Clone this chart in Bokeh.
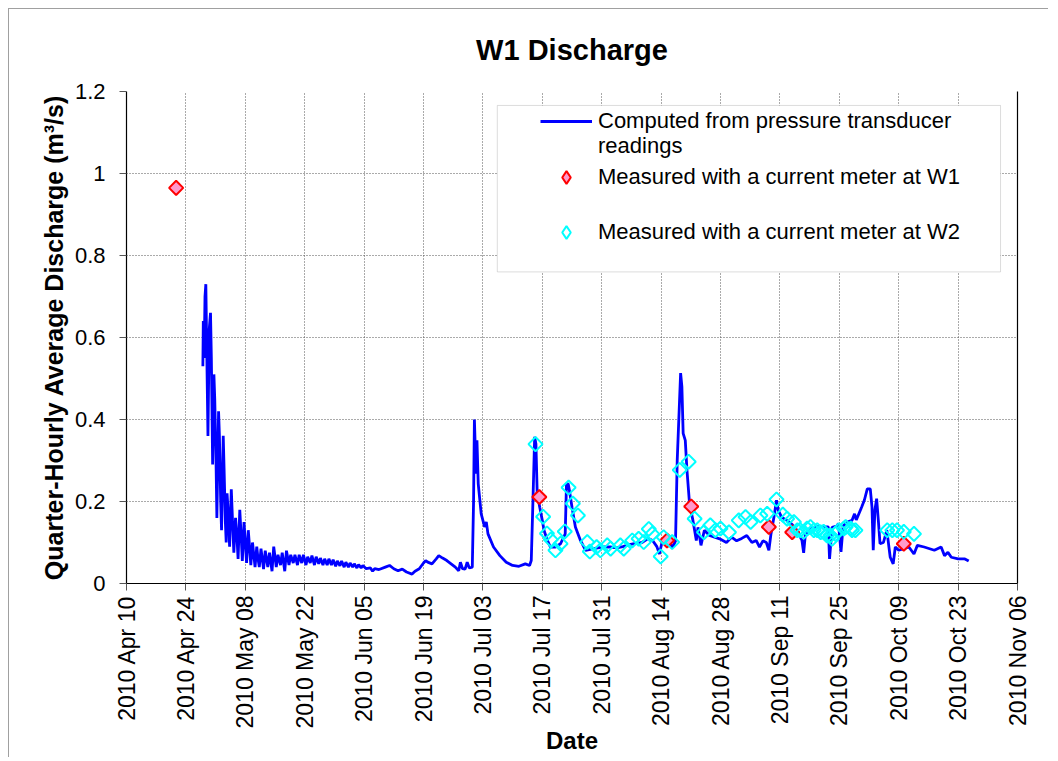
import numpy as np
import pandas as pd
from datetime import datetime, timedelta
from bokeh.plotting import figure
from bokeh.models import (FixedTicker, DatetimeTickFormatter, CustomJSTickFormatter,
                          Legend, LegendItem, BoxAnnotation, Range1d, LinearAxis,
                          ColumnDataSource)
from bokeh.embed import file_html
from bokeh.resources import INLINE

START = datetime(2010, 4, 10)
END = datetime(2010, 11, 6)

# ---- data: days after 2010 Apr 10, discharge (m3/s) ----
flow_day = [
    18.0, 18.1, 18.3, 18.5, 18.7, 18.9, 19.2, 19.5, 19.8, 20.0,
    20.3, 20.6, 20.8, 21.1, 21.3, 21.7, 21.9, 22.2, 22.4, 22.8,
    23.0, 23.3, 23.5, 23.7, 24.0, 24.3, 24.7, 25.0, 25.3, 25.7,
    26.0, 26.3, 26.7, 27.0, 27.3, 27.7, 28.0, 28.3, 28.7, 29.0,
    29.3, 29.7, 30.0, 30.3, 30.7, 31.0, 31.3, 31.7, 32.3, 32.7,
    33.3, 33.7, 34.3, 34.7, 35.3, 35.7, 36.3, 36.7, 37.3, 37.7,
    38.3, 38.7, 39.3, 39.7, 40.3, 40.7, 41.3, 41.7, 42.3, 42.7,
    43.3, 43.7, 44.3, 44.7, 45.3, 45.7, 46.3, 46.7, 47.3, 47.7,
    48.3, 48.7, 49.3, 49.7, 50.3, 50.7, 51.3, 51.7, 52.3, 52.7,
    53.3, 53.7, 54.3, 54.7, 55.3, 55.7, 56.5, 57.5, 58.0, 58.5,
    59.5, 60.0, 61.0, 62.0, 63.0, 64.0, 65.0, 66.0, 67.3, 68.0,
    69.0, 70.0, 70.5, 71.0, 72.0, 73.0, 73.6, 74.5, 75.5, 76.5,
    77.5, 78.3, 78.7, 79.2, 79.8, 80.3, 80.8, 81.5, 81.8, 82.0,
    82.2, 82.4, 82.6, 82.9, 83.6, 84.4, 84.8, 85.2, 86.5, 88.0,
    89.5, 91.0, 92.5, 94.0, 95.0, 95.4, 95.8, 96.2, 96.5, 96.8,
    97.4, 98.0, 98.4, 99.2, 99.9, 101.1, 102.3, 103.4, 103.7, 104.1,
    104.4, 105.0, 105.8, 107.0, 108.2, 110.1, 112.1, 114.0, 115.5, 117.0,
    118.5, 120.0, 121.5, 123.0, 124.0, 125.0, 125.6, 126.2, 127.0, 128.0,
    128.7, 129.4, 129.8, 130.6, 130.9, 131.2, 131.7, 132.1, 132.7, 133.5,
    134.3, 134.7, 135.4, 136.2, 137.4, 139.8, 141.4, 142.6, 143.8, 145.0,
    146.2, 147.4, 148.4, 149.2, 150.0, 150.8, 151.4, 151.9, 152.6, 153.2,
    153.6, 154.4, 155.6, 156.8, 158.0, 159.2, 159.6, 160.0, 161.5, 163.2,
    164.7, 165.4, 165.7, 166.3, 167.4, 167.8, 168.4, 168.9, 169.9, 171.0,
    171.6, 172.0, 173.3, 173.9, 174.6, 175.3, 175.7, 176.0, 176.4, 176.8,
    177.2, 177.6, 178.4, 179.2, 180.0, 180.7, 181.2, 182.0, 183.2, 184.4,
    185.6, 186.4, 188.0, 190.4, 192.0, 192.8, 193.6, 194.4, 196.0, 197.6,
    198.5,
]
flow_q = [
    0.53, 0.64, 0.55, 0.70, 0.73, 0.58, 0.36, 0.62, 0.66, 0.55,
    0.29, 0.51, 0.45, 0.30, 0.16, 0.42, 0.36, 0.20, 0.13, 0.36,
    0.28, 0.15, 0.10, 0.22, 0.17, 0.09, 0.23, 0.15, 0.075, 0.16,
    0.12, 0.06, 0.18, 0.12, 0.055, 0.15, 0.10, 0.05, 0.13, 0.09,
    0.045, 0.10, 0.07, 0.04, 0.09, 0.06, 0.04, 0.085, 0.035, 0.08,
    0.04, 0.075, 0.03, 0.09, 0.04, 0.07, 0.045, 0.075, 0.03, 0.08,
    0.045, 0.07, 0.05, 0.07, 0.045, 0.07, 0.05, 0.07, 0.045, 0.065,
    0.05, 0.068, 0.045, 0.065, 0.048, 0.062, 0.045, 0.06, 0.045, 0.06,
    0.045, 0.058, 0.042, 0.055, 0.043, 0.055, 0.04, 0.052, 0.04, 0.05,
    0.04, 0.048, 0.038, 0.046, 0.038, 0.044, 0.036, 0.038, 0.03, 0.036,
    0.034, 0.036, 0.040, 0.044, 0.036, 0.031, 0.035, 0.028, 0.023, 0.030,
    0.036, 0.050, 0.056, 0.052, 0.048, 0.060, 0.068, 0.062, 0.056, 0.048,
    0.040, 0.031, 0.052, 0.036, 0.035, 0.052, 0.038, 0.040, 0.20, 0.40,
    0.33, 0.268, 0.349, 0.243, 0.17, 0.138, 0.15, 0.121, 0.089, 0.068,
    0.052, 0.044, 0.042, 0.048, 0.044, 0.056, 0.203, 0.358, 0.34, 0.219,
    0.186, 0.154, 0.130, 0.105, 0.089, 0.089, 0.097, 0.121, 0.243, 0.243,
    0.227, 0.186, 0.138, 0.105, 0.081, 0.085, 0.089, 0.089, 0.087, 0.090,
    0.095, 0.098, 0.100, 0.110, 0.105, 0.090, 0.072, 0.100, 0.105, 0.100,
    0.088, 0.104, 0.30, 0.513, 0.48, 0.366, 0.349, 0.276, 0.195, 0.154,
    0.105, 0.137, 0.093, 0.130, 0.117, 0.109, 0.100, 0.113, 0.104, 0.110,
    0.117, 0.100, 0.105, 0.089, 0.104, 0.100, 0.081, 0.121, 0.162, 0.203,
    0.179, 0.162, 0.154, 0.145, 0.130, 0.105, 0.075, 0.120, 0.135, 0.140,
    0.138, 0.138, 0.060, 0.137, 0.140, 0.146, 0.077, 0.140, 0.150, 0.154,
    0.170, 0.155, 0.187, 0.203, 0.231, 0.231, 0.187, 0.081, 0.180, 0.207,
    0.154, 0.097, 0.100, 0.130, 0.064, 0.048, 0.089, 0.081, 0.085, 0.089,
    0.072, 0.093, 0.089, 0.081, 0.089, 0.068, 0.076, 0.064, 0.060, 0.060,
    0.055,
]

w1_day = [11.7, 97.3, 127.4, 133.1, 151.4, 156.9, 183.2]
w1_q = [0.965, 0.211, 0.105, 0.188, 0.138, 0.125, 0.097]

w2_day = [
    96.4, 98.2, 99.1, 100.0, 101.1, 102.3, 103.3, 104.2, 105.2, 106.4,
    108.6, 109.2, 110.8, 111.7, 113.3, 114.1, 116.4, 117.2, 119.2, 120.7,
    121.9, 123.1, 123.9, 125.9, 126.6, 128.6, 130.4, 132.5, 133.9, 136.1,
    137.6, 138.8, 140.0, 142.0, 144.3, 145.9, 147.1, 149.4, 151.0, 153.2,
    154.7, 155.7, 157.3, 158.1, 158.8, 159.6, 160.4, 161.2, 162.0, 162.8,
    163.6, 164.3, 165.1, 165.9, 166.3, 167.1, 167.9, 169.1, 169.5, 170.7,
    171.0, 171.8, 179.3, 180.5, 181.6, 183.2, 185.6,
]
w2_q = [
    0.340, 0.163, 0.122, 0.107, 0.081, 0.097, 0.127, 0.234, 0.195, 0.166,
    0.101, 0.078, 0.089, 0.081, 0.093, 0.085, 0.093, 0.085, 0.105, 0.109,
    0.101, 0.133, 0.121, 0.066, 0.113, 0.101, 0.277, 0.297, 0.158, 0.125,
    0.142, 0.130, 0.134, 0.125, 0.154, 0.162, 0.150, 0.166, 0.170, 0.205,
    0.168, 0.158, 0.150, 0.130, 0.130, 0.126, 0.134, 0.138, 0.130, 0.130,
    0.125, 0.126, 0.117, 0.117, 0.109, 0.121, 0.130, 0.134, 0.138, 0.134,
    0.130, 0.130, 0.130, 0.130, 0.130, 0.126, 0.121,
]

x_tick_dates = ["2010-04-10", "2010-04-24", "2010-05-08", "2010-05-22",
                "2010-06-05", "2010-06-19", "2010-07-03", "2010-07-17",
                "2010-07-31", "2010-08-14", "2010-08-28", "2010-09-11",
                "2010-09-25", "2010-10-09", "2010-10-23", "2010-11-06"]
y_ticks = [0, 0.2, 0.4, 0.6, 0.8, 1.0, 1.2]

FONT = "Liberation Sans"


def to_dt(days):
    return [START + timedelta(days=d) for d in days]


def ms(d):
    return pd.Timestamp(d).value / 1e6


flow_src = ColumnDataSource(dict(x=to_dt(flow_day), y=flow_q))
w1_src = ColumnDataSource(dict(x=to_dt(w1_day), y=w1_q))
w2_src = ColumnDataSource(dict(x=to_dt(w2_day), y=w2_q))

p = figure(frame_width=891, frame_height=492, x_axis_type="datetime",
           x_range=Range1d(START, END), y_range=Range1d(0, 1.2),
           output_backend="svg", toolbar_location=None,
           min_border_left=117, min_border_right=31,
           min_border_top=82, min_border_bottom=170,
           title="W1 Discharge")
p.styles = {"border-left": "1px solid #a0a0a0", "border-top": "1px solid #a0a0a0",
            "margin-left": "8px", "margin-top": "8px"}
p.background_fill_color = "white"
p.border_fill_color = "white"
p.outline_line_color = None

p.title.align = "center"
p.title.vertical_align = "top"
p.title.text_font = FONT
p.title.text_font_size = "29px"
p.title.text_font_style = "bold"
p.title.text_color = "black"
p.title.standoff = 47

# axes
xax = p.xaxis[0]
xax.ticker = FixedTicker(ticks=[ms(d) for d in x_tick_dates])
fmt = "%Y %b %d"
xax.formatter = DatetimeTickFormatter(days=fmt, months=fmt, years=fmt,
                                      hours=fmt, minutes=fmt, seconds=fmt,
                                      milliseconds=fmt, minsec=fmt, hourmin=fmt)
xax.major_label_orientation = np.pi / 2
xax.axis_label = "Date"

yax = p.yaxis[0]
yax.ticker = FixedTicker(ticks=y_ticks)
yax.formatter = CustomJSTickFormatter(code="return String(Math.round(tick*10)/10);")
yax.axis_label = "Quarter-Hourly Average Discharge (m\u00b3/s)"

for ax in (xax, yax):
    ax.axis_line_color = "black"
    ax.axis_line_width = 1.2
    ax.major_tick_line_color = "#555555"
    ax.major_tick_out = 7
    ax.major_tick_in = 0
    ax.minor_tick_out = 0
    ax.minor_tick_in = 0
    ax.major_label_text_font = FONT
    ax.major_label_text_color = "black"
    ax.axis_label_text_font = FONT
    ax.axis_label_text_font_style = "bold"
    ax.axis_label_text_color = "black"
xax.major_label_text_font_size = "23px"
yax.major_label_text_font_size = "22px"
xax.axis_label_text_font_size = "24px"
yax.axis_label_text_font_size = "25px"
xax.major_label_standoff = 5
xax.axis_label_standoff = -4
yax.major_label_standoff = 14
yax.axis_label_standoff = 4

right_ax = LinearAxis(ticker=FixedTicker(ticks=[]), axis_line_color="black",
                      axis_line_width=1.2, major_tick_out=0, minor_tick_out=0)
p.add_layout(right_ax, "right")

for g in (p.xgrid[0], p.ygrid[0]):
    g.grid_line_color = "#555555"
    g.grid_line_dash = "1 2"
    g.grid_line_width = 1

# data
line_r = p.line("x", "y", source=flow_src, line_color="#0000FF", line_width=2.8)
w1_r = p.scatter("x", "y", source=w1_src, marker="square", angle=np.pi / 4,
                 size=10, fill_color="#FF99CC", line_color="#FF0000", line_width=2)
w2_r = p.scatter("x", "y", source=w2_src, marker="square", angle=np.pi / 4,
                 size=10, fill_color=None, line_color="#00FFFF", line_width=2)

# hidden renderers that only provide the legend sample glyphs
blank_r = p.line("x", "y", source=flow_src, line_alpha=0, visible=False)
w1_key = p.scatter("x", "y", source=w1_src, marker="diamond", fill_color="#FF99CC",
                   line_color="#FF0000", line_width=2, visible=False)
w2_key = p.scatter("x", "y", source=w2_src, marker="diamond", fill_color=None,
                   line_color="#00FFFF", line_width=2, visible=False)

# legend box (drawn behind borderless legends)
box = BoxAnnotation(left=ms(START + timedelta(days=87.4)),
                    right=ms(START + timedelta(days=206.0)),
                    top=1.166, bottom=0.760,
                    fill_color="white", fill_alpha=1.0,
                    line_color="#8c8c8c", line_width=1, line_dash="solid")
p.add_layout(box)


def mk_legend(label, renderer, loc, gh):
    lg = Legend(items=[LegendItem(label=label, renderers=[renderer])],
                location=loc, orientation="vertical")
    lg.border_line_alpha = 0
    lg.background_fill_alpha = 0
    lg.inactive_fill_alpha = 0
    lg.padding = 0
    lg.margin = 0
    lg.spacing = 0
    lg.glyph_width = 52
    lg.glyph_height = gh
    lg.label_standoff = 6
    lg.label_text_font = FONT
    lg.label_text_font_size = "22px"
    lg.label_text_color = "black"
    lg.click_policy = "none"
    return lg


for lg in (
    mk_legend("Computed from pressure transducer", line_r, (414, 449), 20),
    mk_legend("readings", blank_r, (414, 424), 20),
    mk_legend("Measured with a current meter at W1", w1_key, (414, 390), 32),
    mk_legend("Measured with a current meter at W2", w2_key, (414, 335), 32),
):
    p.add_layout(lg)

open("out.html", "w").write(file_html(p, INLINE, "W1 Discharge"))
